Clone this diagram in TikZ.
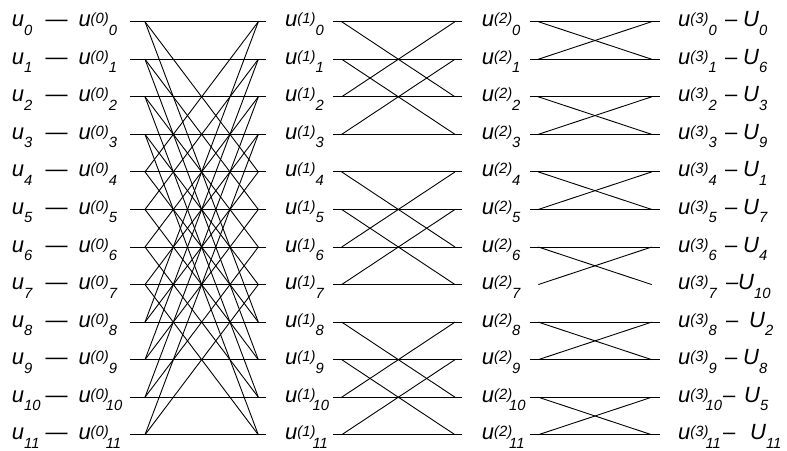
\documentclass[tikz,border=0pt]{standalone}
\usepackage{fontspec}
\setmainfont{Liberation Sans}[ItalicFont={Liberation Sans Italic}]
\newfontfamily\labfont{Liberation Sans Italic}
\newcommand\mainsz{\fontsize{22}{22}\selectfont}
\newcommand\smallsz{\fontsize{14.8}{14.8}\selectfont}
\newcommand\ulab[3]{#1\raisebox{3pt}{\smallsz(#2)}\ifnum#3>9 \kern-3pt\fi\raisebox{-8.5pt}{\smallsz #3}}
\newcommand\uin[2]{#1\raisebox{-8.5pt}{\smallsz #2}}
\tikzset{
  lab/.style={inner sep=0pt, anchor=base west, font=\mainsz\labfont},
  dashlab/.style={inner sep=0pt, anchor=base west, font=\mainsz},
  wire/.style={line width=0.9pt, black},
}
\begin{document}
\begin{tikzpicture}[x=1pt,y=-1pt]
\useasboundingbox (0,0) rectangle (787,450);
\foreach \i in {0,...,11}{
  \pgfmathsetmacro\y{21.7+37.55*\i}
  % labels
  \node[lab] (in\i) at (11.7,\y+5) {\uin{u}{\i}};
  \node[dashlab] (da\i) at (45.5,\y+5) {—};
  \node[lab] (ua\i) at (78.3,\y+5) {\ulab{u}{0}{\i}};
  \node[lab] (ub\i) at (285,\y+5) {\ulab{u}{1}{\i}};
  \node[lab] (uc\i) at (481.7,\y+5) {\ulab{u}{2}{\i}};
  \node[lab] (ud\i) at (678,\y+5) {\ulab{u}{3}{\i}};
  % wire end points
  \coordinate (hal\i) at (130,\y);
  \coordinate (har\i) at (266,\y);
  \coordinate (dal\i) at (145,\y);
  \coordinate (dar\i) at (258.3,\y);
  \coordinate (hbl\i) at (333,\y);
  \coordinate (hbr\i) at (462,\y);
  \coordinate (dbl\i) at (341.7,\y);
  \coordinate (dbr\i) at (455,\y);
  \coordinate (hcl\i) at (530,\y);
  \coordinate (hcr\i) at (660,\y);
  \coordinate (dcl\i) at (538.3,\y);
  \coordinate (dcr\i) at (651.7,\y);
}
\foreach \i/\k/\ux/\dx in {0/0/743/725,1/6/743/725,2/3/743/725,3/9/743/725,
  4/1/743/725,5/7/743/725,6/4/743/725,7/10/738/726,8/2/749/726,9/8/743/725,
  10/5/744/723,11/11/750/723}{
  \pgfmathsetmacro\y{21.7+37.55*\i}
  \node[dashlab] (dd\i) at (\dx,\y+5) {–};
  \node[lab] (U\i) at (\ux,\y+5) {\uin{U}{\k}};
}
% horizontal wires
\foreach \i in {0,...,11}{
  \draw[wire] (hal\i) -- (har\i);
  \draw[wire] (hbl\i) -- (hbr\i);
}
\foreach \i in {0,1,2,3,4,5,6,8,9,10,11}{
  \draw[wire] (hcl\i) -- (hcr\i);
}
% stage 1: radix-3, stride 4
\foreach \i in {0,...,11}{
  \foreach \d in {4,8}{
    \pgfmathtruncatemacro\j{mod(\i+\d,12)}
    \draw[wire] (dal\i) -- (dar\j);
  }
}
% stage 2: radix-2, stride 2
\foreach \i in {0,...,11}{
  \pgfmathtruncatemacro\j{4*floor(\i/4)+mod(mod(\i,4)+2,4)}
  \draw[wire] (dbl\i) -- (dbr\j);
}
% stage 3: radix-2, stride 1
\foreach \i in {0,...,11}{
  \pgfmathtruncatemacro\j{2*floor(\i/2)+1-mod(\i,2)}
  \draw[wire] (dcl\i) -- (dcr\j);
}
\end{tikzpicture}
\end{document}
